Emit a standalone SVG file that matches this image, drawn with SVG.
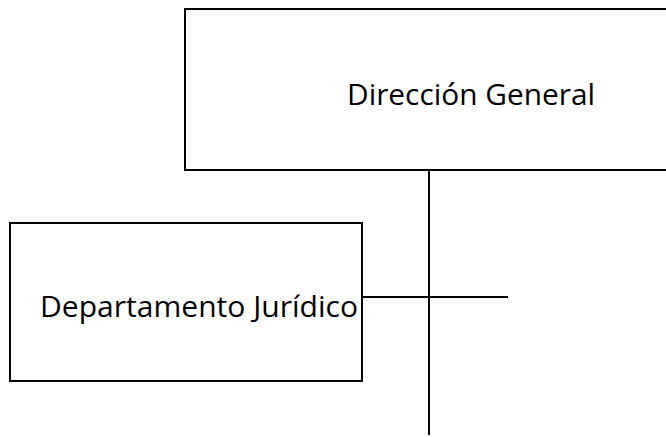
<svg xmlns="http://www.w3.org/2000/svg" width="666" height="437" viewBox="0 0 666 437">
<style>
.box{fill:#fff;stroke:#000;stroke-width:2}
.lbl{font-family:"Open Sans","Noto Sans",sans-serif;font-size:30px;fill:#000}
.con{stroke:#000;stroke-width:2;fill:none}
</style>
<rect width="666" height="437" fill="#fff"/>
<g id="connectors">
<line class="con" x1="429" y1="170" x2="429" y2="435"/>
<line class="con" x1="362" y1="297" x2="508" y2="297"/>
</g>
<g id="direccion-general">
<rect class="box" x="185" y="9" width="500" height="161"/>
<text class="lbl" x="347" y="105" textLength="248" lengthAdjust="spacingAndGlyphs">Dirección General</text>
</g>
<g id="departamento-juridico">
<rect class="box" x="10" y="223" width="352" height="158"/>
<text class="lbl" x="40" y="317" textLength="318" lengthAdjust="spacingAndGlyphs">Departamento Jurídico</text>
</g>
</svg>
